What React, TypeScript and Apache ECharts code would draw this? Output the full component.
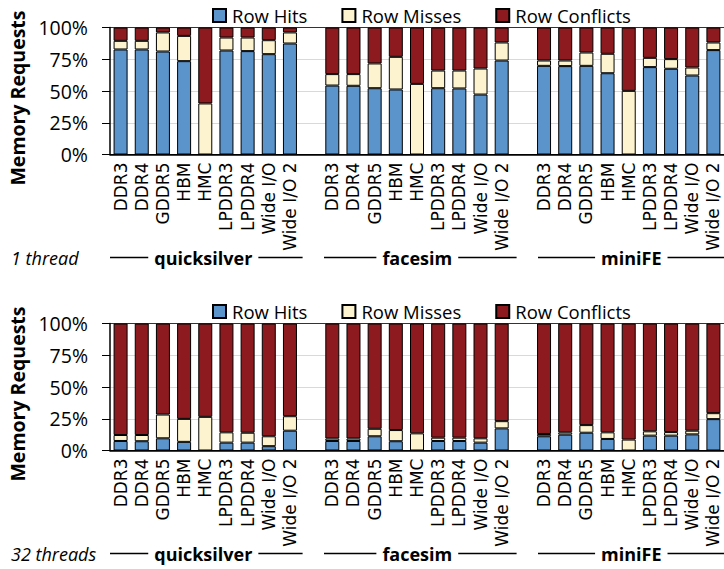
import React, { useEffect, useRef } from "react";
import * as echarts from "echarts";

const categories = ["DDR3", "DDR4", "GDDR5", "HBM", "HMC", "LPDDR3", "LPDDR4", "Wide I/O", "Wide I/O 2"];
const workloads = ["quicksilver", "facesim", "miniFE"];
const seriesNames = ["Row Hits", "Row Misses", "Row Conflicts"];
const panelLabels = ["1 thread", "32 threads"];

// 1 thread (percent of requests), groups: quicksilver, facesim, miniFE
const hits1 = [
  82.7, 82.7, 81.1, 73.5, 0, 81.9, 81.4, 79.0, 87.4,
  54.3, 54.1, 52.2, 51.2, 0, 52.2, 52.0, 47.2, 74.0,
  69.8, 69.6, 69.8, 64.0, 0, 68.8, 67.5, 62.2, 82.2,
];
const misses1 = [
  6.8, 6.8, 15.0, 19.9, 40.2, 10.2, 10.7, 11.0, 8.7,
  9.0, 9.2, 19.5, 25.7, 55.6, 13.9, 14.1, 20.5, 14.2,
  4.2, 4.4, 10.5, 15.3, 50.1, 7.3, 7.6, 6.3, 6.0,
];
const conflicts1 = [
  10.5, 10.5, 3.9, 6.6, 59.8, 7.9, 7.9, 10.0, 3.9,
  36.7, 36.7, 28.3, 23.1, 44.4, 33.9, 33.9, 32.3, 11.8,
  26.0, 26.0, 19.7, 20.7, 49.9, 23.9, 24.9, 31.5, 11.8,
];

// 32 threads
const hits2 = [
  7.5, 7.3, 9.6, 6.8, 0, 6.2, 6.2, 3.4, 15.6,
  7.5, 7.5, 11.2, 7.3, 0, 7.5, 7.5, 6.2, 17.4,
  11.2, 12.5, 14.0, 9.1, 0, 11.7, 11.7, 12.7, 24.7,
];
const misses2 = [
  4.7, 4.9, 18.7, 18.1, 26.5, 8.1, 7.8, 7.8, 11.4,
  1.9, 1.9, 5.9, 8.8, 13.5, 2.6, 2.6, 3.4, 5.7,
  1.8, 1.8, 6.0, 5.2, 8.6, 3.4, 2.8, 2.9, 4.7,
];
const conflicts2 = [
  87.8, 87.8, 71.7, 75.1, 73.5, 85.7, 86.0, 88.8, 73.0,
  90.6, 90.6, 82.9, 83.9, 86.5, 89.9, 89.9, 90.4, 76.9,
  87.0, 85.7, 80.0, 85.7, 91.4, 84.9, 85.5, 84.4, 70.6,
];

const yTicks = [0, 25, 50, 75, 100];

const COLORS = ["#5B93CB", "#FDF3CE", "#8C1A1E"];
const FONT = '"Open Sans", "Noto Sans", sans-serif';
const CAT_FONT = '"DejaVu Sans", sans-serif';

// layout
const GRID_LEFT = 110;
const GRID_WIDTH = 620.6;
const PANEL_TOPS = [27.5, 323.5];
const PANEL_HEIGHT = 127;
const GROUP_LABEL_Y = [257.5, 553.5];
const LEGEND_TOPS = [6, 302];

function withGaps(values: number[]): (number | string)[] {
  const out: (number | string)[] = [];
  workloads.forEach((_, g) => {
    if (g > 0) out.push("-");
    for (let i = 0; i < categories.length; i++) out.push(values[g * categories.length + i]);
  });
  return out;
}

function axisCategories(): string[] {
  const out: string[] = [];
  workloads.forEach((_, g) => {
    if (g > 0) out.push("");
    categories.forEach((c) => out.push(c));
  });
  return out;
}

export default function App() {
  const ref = useRef<HTMLDivElement>(null);

  useEffect(() => {
    if (!ref.current) return;
    const chart = echarts.init(ref.current, undefined, { renderer: "svg" });
    const cats = axisCategories();
    const panels = [
      [hits1, misses1, conflicts1],
      [hits2, misses2, conflicts2],
    ];

    const grid = PANEL_TOPS.map((top) => ({
      left: GRID_LEFT,
      top,
      width: GRID_WIDTH,
      height: PANEL_HEIGHT,
    }));

    const xAxis = PANEL_TOPS.map((_, i) => ({
      type: "category",
      gridIndex: i,
      data: cats,
      axisTick: { show: false },
      axisLine: { lineStyle: { color: "#000", width: 1.5 } },
      axisLabel: {
        interval: 0,
        rotate: 90,
        margin: 8,
        color: "#000",
        fontFamily: CAT_FONT,
        fontSize: 17,
      },
    }));

    const yAxis = PANEL_TOPS.map((_, i) => ({
      type: "value",
      gridIndex: i,
      min: 0,
      max: 100,
      interval: 25,
      axisLine: { show: true, lineStyle: { color: "#000", width: 1.5 } },
      axisTick: { show: true, length: 8, lineStyle: { color: "#000", width: 1 } },
      axisLabel: {
        margin: 22,
        color: "#000",
        fontFamily: FONT,
        fontSize: 19.5,
        formatter: (v: number) => (yTicks.includes(v) ? `${v}%` : ""),
      },
      splitLine: {
        show: true,
        lineStyle: { color: ["#000", "#d9d9d9", "#d9d9d9", "#d9d9d9", "#333"], width: 1 },
      },
    }));

    const series: any[] = [];
    panels.forEach((vals, p) => {
      vals.forEach((v, s) => {
        series.push({
          name: seriesNames[s],
          type: "bar",
          stack: "panel" + p,
          xAxisIndex: p,
          yAxisIndex: p,
          barWidth: 14,
          data: withGaps(v),
          itemStyle: { color: COLORS[s], borderColor: "#000", borderWidth: 1 },
        });
      });
    });

    const legend = LEGEND_TOPS.map((top) => ({
      top,
      left: 212,
      padding: 0,
      itemWidth: 13,
      itemHeight: 13,
      itemGap: 34,
      icon: "rect",
      data: seriesNames,
      textStyle: { fontFamily: FONT, fontSize: 18.5, color: "#000", lineHeight: 14, padding: [0, 0, 0, 1] },
    }));

    const slot = GRID_WIDTH / (workloads.length * categories.length + workloads.length - 1);
    const graphic: any[] = [];
    PANEL_TOPS.forEach((top, p) => {
      graphic.push({
        type: "text",
        x: 17,
        y: top + PANEL_HEIGHT / 2 + 7,
        rotation: Math.PI / 2,
        style: {
          text: "Memory Requests",
          font: `bold 19.5px ${FONT}`,
          fill: "#000",
          align: "center",
          verticalAlign: "middle",
          textAlign: "center",
          textVerticalAlign: "middle",
        },
      });
      graphic.push({
        type: "text",
        x: 11,
        y: GROUP_LABEL_Y[p],
        style: {
          text: panelLabels[p],
          font: `italic 18px ${FONT}`,
          fill: "#000",
          align: "left",
          verticalAlign: "middle",
          textAlign: "left",
          textVerticalAlign: "middle",
        },
      });
      workloads.forEach((w, g) => {
        const x0 = GRID_LEFT + g * (categories.length + 1) * slot;
        const x1 = x0 + categories.length * slot;
        graphic.push({
          type: "line",
          shape: { x1: x0, y1: GROUP_LABEL_Y[p], x2: x1, y2: GROUP_LABEL_Y[p] },
          style: { stroke: "#000", lineWidth: 1.5 },
        });
        graphic.push({
          type: "text",
          x: (x0 + x1) / 2 - 3,
          y: GROUP_LABEL_Y[p],
          style: {
            text: w,
            font: `bold 18px ${FONT}`,
            fill: "#000",
            align: "center",
            verticalAlign: "middle",
            textAlign: "center",
            textVerticalAlign: "middle",
            backgroundColor: "#fff",
            padding: [0, 6],
          },
        });
      });
    });

    chart.setOption({
      animation: false,
      backgroundColor: "#fff",
      grid,
      xAxis,
      yAxis,
      legend,
      series,
      graphic,
    });

    return () => chart.dispose();
  }, []);

  return (
    <div
      ref={ref}
      style={{ position: "fixed", left: 0, top: 0, width: 724, height: 569, background: "#fff" }}
    />
  );
}
